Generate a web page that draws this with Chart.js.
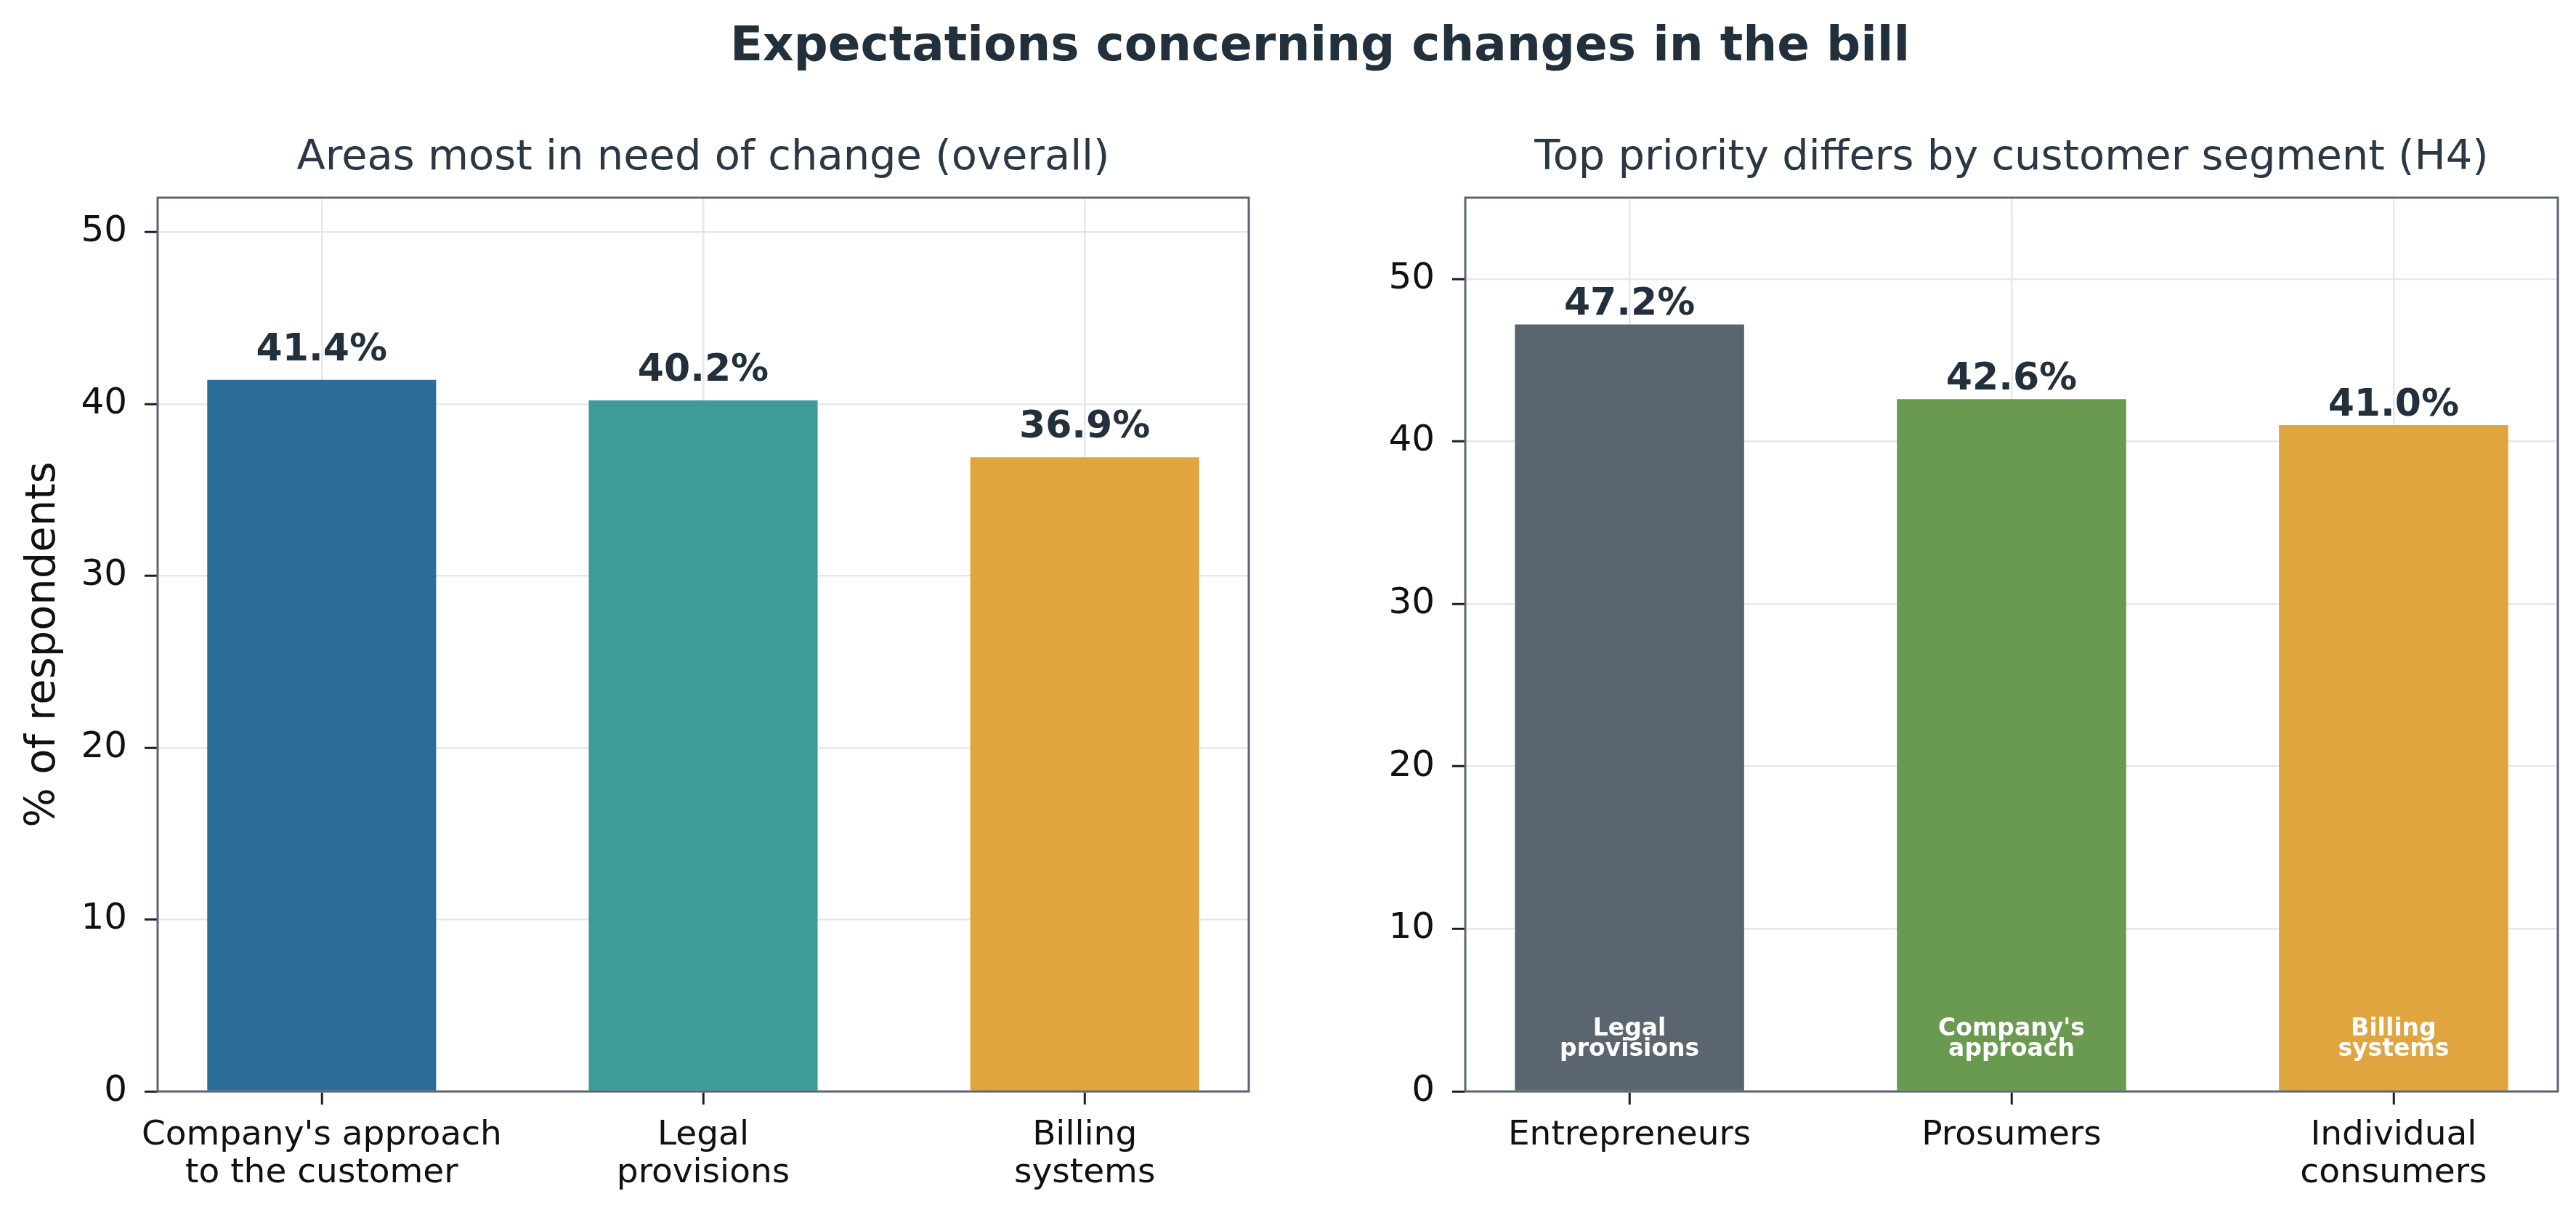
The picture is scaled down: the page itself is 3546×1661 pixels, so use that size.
<!DOCTYPE html>
<html>
<head>
<meta charset="utf-8">
<script src="https://cdn.jsdelivr.net/npm/chart.js@4.4.1/dist/chart.umd.min.js"></script>
<style>
  html, body { margin: 0; padding: 0; background: #ffffff; }
  body { width: 3546px; height: 1661px; position: relative; overflow: hidden; font-family: "DejaVu Sans", sans-serif; }
  #suptitle { position: absolute; left: 1817px; top: 22px; transform: translateX(-50%); white-space: nowrap;
              font-family: "DejaVu Sans", sans-serif; font-weight: bold; font-size: 66px; line-height: 78px; color: #22303c; }
  canvas { position: absolute; top: 0; }
  #c1 { left: 0; }
  #c2 { left: 1773px; }
</style>
</head>
<body>
<div id="suptitle">Expectations concerning changes in the bill</div>
<canvas id="c1" width="1773" height="1661"></canvas>
<canvas id="c2" width="1773" height="1661"></canvas>
<script>
// ---------------- data ----------------
const mainTitle = "Expectations concerning changes in the bill";
const leftTitle = "Areas most in need of change (overall)";
const rightTitle = "Top priority differs by customer segment (H4)";
const yAxisLabel = "% of respondents";

const leftCategories = [["Company's approach", "to the customer"], ["Legal", "provisions"], ["Billing", "systems"]];
const leftValues = [41.4, 40.2, 36.9];

const rightCategories = [["Entrepreneurs"], ["Prosumers"], ["Individual", "consumers"]];
const rightValues = [47.2, 42.6, 41.0];
const rightTopPriority = [["Legal", "provisions"], ["Company's", "approach"], ["Billing", "systems"]];

const yTickValues = [0, 10, 20, 30, 40, 50];
const leftYMax = 52;
const rightYMax = 55;

// ---------------- styles ----------------
const FONT = '"DejaVu Sans"';
const leftColors = ['#2b6c99', '#3d9b99', '#e1a53f'];
const rightColors = ['#5b6570', '#6a9a50', '#e1a53f'];
const spineColor = '#5b6672';
const gridColor = '#e6e7eb';
const tickMarkColor = '#1e1e1e';
const tickTextColor = '#111111';
const titleColor = '#2a3846';
const valueColor = '#22303c';

const decorPlugin = {
  id: 'decor',
  afterDatasetsDraw(chart) {
    const cfg = chart.config.options.decorCfg;
    const { ctx, chartArea: a } = chart;
    ctx.save();
    // full box spines
    ctx.strokeStyle = spineColor;
    ctx.lineWidth = 3;
    ctx.strokeRect(a.left, a.top, a.right - a.left, a.bottom - a.top);
    const meta = chart.getDatasetMeta(0);
    const ds = chart.data.datasets[0].data;
    // value labels above bars
    ctx.fillStyle = valueColor;
    ctx.font = 'bold 52px ' + FONT;
    ctx.textAlign = 'center';
    ctx.textBaseline = 'alphabetic';
    meta.data.forEach((bar, i) => {
      ctx.fillText(ds[i].y.toFixed(1) + '%', bar.x, bar.y - cfg.gap);
    });
    // inside labels
    if (cfg.inside) {
      const yScale = chart.scales.y;
      const base = yScale.getPixelForValue(2) - 4;
      ctx.fillStyle = '#ffffff';
      ctx.font = 'bold 33px ' + FONT;
      meta.data.forEach((bar, i) => {
        const lines = cfg.inside[i];
        for (let k = 0; k < lines.length; k++) {
          ctx.fillText(lines[k], bar.x, base - (lines.length - 1 - k) * 28);
        }
      });
    }
    ctx.restore();
  }
};

function makeChart(canvasId, opts) {
  return new Chart(document.getElementById(canvasId), {
    type: 'bar',
    data: {
      datasets: [{
        data: opts.values.map((v, i) => ({ x: i, y: v })),
        backgroundColor: opts.colors,
        borderWidth: 0,
        barPercentage: 0.6,
        categoryPercentage: 1.0
      }]
    },
    options: {
      responsive: false,
      animation: false,
      devicePixelRatio: 1,
      decorCfg: { gap: opts.gap, inside: opts.inside },
      layout: { padding: { left: 0, right: opts.padRight, top: 0, bottom: 0 } },
      plugins: {
        legend: { display: false },
        tooltip: { enabled: false },
        title: {
          display: true,
          text: opts.title,
          fullSize: false,
          color: titleColor,
          font: { family: FONT, size: 57.5, weight: 'normal', lineHeight: 1.2 },
          padding: { top: 184, bottom: 19 }
        }
      },
      scales: {
        x: {
          type: 'linear',
          min: -0.43,
          max: 2.43,
          offset: false,
          afterBuildTicks: (scale) => { scale.ticks = opts.categories.map((c, i) => ({ value: i })); },
          afterFit: (scale) => { scale.height = 159; },
          grid: { display: true, offset: false, color: gridColor, lineWidth: 2.5, drawTicks: true, tickLength: 18, tickColor: tickMarkColor, tickWidth: 3 },
          border: { display: false },
          ticks: {
            autoSkip: false,
            maxRotation: 0,
            padding: 17,
            color: tickTextColor,
            font: { family: FONT, size: 47, lineHeight: 1.1 },
            callback: (value, index) => opts.categories[index]
          }
        },
        y: {
          min: 0,
          max: opts.yMax,
          afterBuildTicks: (scale) => { scale.ticks = yTickValues.map(v => ({ value: v })); },
          afterFit: (scale) => { scale.width = opts.yWidth; },
          grid: { color: gridColor, lineWidth: 2.5, drawTicks: true, tickLength: 18, tickColor: tickMarkColor, tickWidth: 3 },
          border: { display: false },
          ticks: {
            padding: 24,
            color: tickTextColor,
            font: { family: FONT, size: 50 }
          },
          title: {
            display: !!opts.yTitle,
            text: opts.yTitle || '',
            color: tickTextColor,
            font: { family: FONT, size: 57.5, lineHeight: 1.2 },
            padding: { top: 26, bottom: 0 }
          }
        }
      }
    },
    plugins: [decorPlugin]
  });
}

makeChart('c1', {
  values: leftValues, colors: leftColors, categories: leftCategories, title: leftTitle,
  yMax: leftYMax, yWidth: 217, padRight: 54, gap: 27, yTitle: yAxisLabel, inside: null
});
makeChart('c2', {
  values: rightValues, colors: rightColors, categories: rightCategories, title: rightTitle,
  yMax: rightYMax, yWidth: 244, padRight: 25, gap: 13, yTitle: null, inside: rightTopPriority
});
</script>
</body>
</html>
